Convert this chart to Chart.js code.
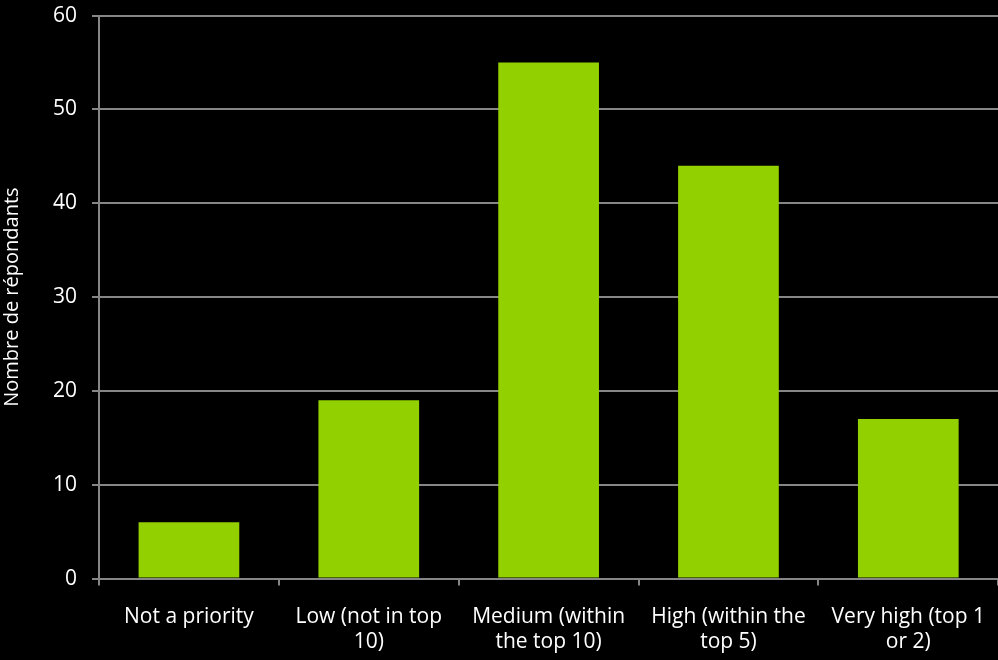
<!DOCTYPE html>
<html>
<head>
<meta charset="utf-8">
<script src="https://cdn.jsdelivr.net/npm/chart.js@4"></script>
<style>
  html, body { margin: 0; padding: 0; background: #000; overflow: hidden; }
  #wrap { position: relative; top: -12px; width: 1004px; height: 689px; }
</style>
</head>
<body>
<div id="wrap"><canvas id="chart"></canvas></div>
<script>
// ── Data ──
const categories = [
    ['Not a priority'],
    ['Low (not in top', '10)'],
    ['Medium (within', 'the top 10)'],
    ['High (within the', 'top 5)'],
    ['Very high (top 1', 'or 2)']
];
const respondents = [6, 19, 55, 44, 17];
const yTitle = 'Nombre de répondants';

const GRID = '#868686';
const FONT = "'Open Sans', 'Liberation Sans', sans-serif";

new Chart(document.getElementById('chart'), {
    type: 'bar',
    data: {
        labels: categories,
        datasets: [{
            data: respondents,
            backgroundColor: '#92D000',
            borderWidth: 0,
            categoryPercentage: 1,
            barPercentage: 0.56,
        }]
    },
    options: {
        responsive: true, maintainAspectRatio: false, animation: false,
        layout: { padding: { top: 0, right: 0, left: 0, bottom: 3 } },
        plugins: { legend: { display: false }, tooltip: { enabled: false } },
        scales: {
            x: {
                grid: { color: GRID, lineWidth: 2, drawOnChartArea: false, tickLength: 7, offset: true },
                border: { color: GRID, width: 2 },
                ticks: { color: '#fff', font: { family: FONT, size: 21, lineHeight: 1.2 }, maxRotation: 0, autoSkip: false, padding: 19 },
            },
            y: {
                min: 0, max: 60,
                grid: { color: GRID, lineWidth: 2, tickLength: 7 },
                border: { color: GRID, width: 2 },
                ticks: { stepSize: 10, color: '#fff', font: { family: FONT, size: 21 }, padding: 15 },
                title: { display: true, text: yTitle, color: '#fff', font: { family: FONT, size: 20 }, padding: { top: 0, bottom: 14 } }
            }
        }
    }
});
</script>
</body>
</html>
